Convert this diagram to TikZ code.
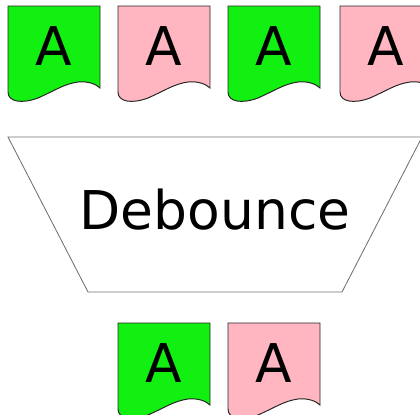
\documentclass[tikz,border=0pt]{standalone}
\usepackage{fontspec}
\setmainfont{DejaVu Sans}
\definecolor{bitgreen}{HTML}{11F011}
\definecolor{bitpink}{HTML}{FFB6C1}
\definecolor{edgegray}{HTML}{707070}
\tikzstyle{bitletter} = [font=\fontsize{38}{38}\selectfont, inner sep=0pt]
\tikzstyle{page} = [draw=black!85, line width=0.7pt]
\tikzstyle{filter} = [draw=edgegray, line width=0.6pt]
% one sample: name, left, top, colour
\newcommand{\bitpage}[4]{%
  \begin{scope}[shift={(#2,#3)}]
    \path[page, fill=#4] (0,0) -- (0,86) .. controls (0,96) and (14,98) .. (30,92)
      .. controls (48,84) and (56,78) .. (70,76) .. controls (80,75) and (88,78) .. (92,82)
      -- (92,0) -- cycle;
    \node[bitletter] (#1) at (46,40) {A};
  \end{scope}}

\begin{document}
\begin{tikzpicture}[x=0.025cm, y=-0.025cm]
    \clip (0,0) rectangle (420,414);
    % input samples
    \bitpage{in1}{8}{6}{bitgreen}
    \bitpage{in2}{118}{6}{bitpink}
    \bitpage{in3}{228}{6}{bitgreen}
    \bitpage{in4}{340}{6}{bitpink}
    % filter
    \coordinate (tl) at (8,137);
    \coordinate (tr) at (422,137);
    \coordinate (br) at (342,292);
    \coordinate (bl) at (88,292);
    \draw[filter] (tl) -- (tr) -- (br) -- (bl) -- cycle;
    \node[font=\fontsize{38}{38}\selectfont, inner sep=0pt] (debounce) at (215,210) {Debounce};
    % output samples
    \bitpage{out1}{118}{323}{bitgreen}
    \bitpage{out2}{228}{323}{bitpink}
\end{tikzpicture}
\end{document}
